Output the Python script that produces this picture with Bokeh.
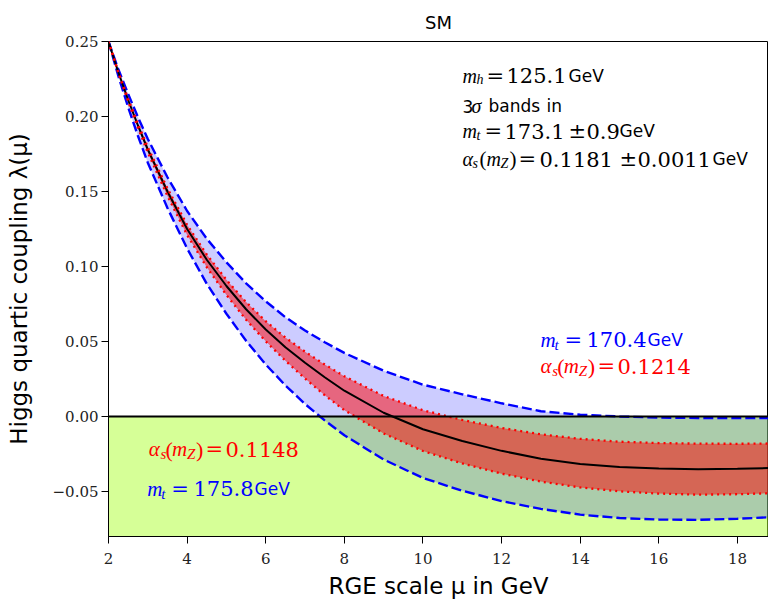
from bokeh.plotting import figure
from bokeh.models import Range1d, FixedTicker, Span, BoxAnnotation, Label
from bokeh.embed import file_html
from bokeh.resources import INLINE

# ---------------- data ----------------
mu = [2.0, 2.25, 2.5, 2.75, 3.0, 3.5, 4.0, 4.5, 5.0, 5.5, 6.0, 6.5, 7.0, 7.5, 8.0,
      9.0, 10.0, 11.0, 12.0, 13.0, 14.0, 15.0, 16.0, 17.0, 18.0, 18.8]

lam_central = [0.250, 0.2295, 0.2110, 0.1940, 0.1780, 0.1500, 0.1250, 0.1045, 0.0870,
               0.0715, 0.0580, 0.0462, 0.0358, 0.0262, 0.0172, 0.0025, -0.0085,
               -0.0163, -0.0229, -0.0281, -0.0316, -0.0337, -0.0347, -0.0351,
               -0.0349, -0.0344]
# m_t = 170.4 GeV (upper dashed)
lam_mt_170 = [0.250, 0.2315, 0.2150, 0.1995, 0.1850, 0.1595, 0.1370, 0.1185, 0.1028,
              0.0888, 0.0768, 0.0662, 0.0573, 0.0495, 0.0424, 0.0305, 0.0212,
              0.0148, 0.0088, 0.0035, 0.0012, 0.0000, -0.0007, -0.0010,
              -0.0011, -0.0010]
# m_t = 175.8 GeV (lower dashed)
lam_mt_175 = [0.250, 0.2270, 0.2062, 0.1870, 0.1692, 0.1390, 0.1120, 0.0885, 0.0685,
              0.0505, 0.0347, 0.0207, 0.0083, -0.0026, -0.0125, -0.0287, -0.0410,
              -0.0495, -0.0564, -0.0616, -0.0654, -0.0677, -0.0687, -0.0689,
              -0.0682, -0.0672]
# alpha_s(m_Z) = 0.1214 (upper dotted)
lam_as_1214 = [0.250, 0.2299, 0.2118, 0.1952, 0.1795, 0.1521, 0.1278, 0.1080, 0.0911,
               0.0763, 0.0635, 0.0526, 0.0432, 0.0347, 0.0268, 0.0137, 0.0042,
               -0.0023, -0.0076, -0.0119, -0.0149, -0.0168, -0.0177, -0.0181,
               -0.0182, -0.0180]
# alpha_s(m_Z) = 0.1148 (lower dotted)
lam_as_1148 = [0.250, 0.2290, 0.2100, 0.1925, 0.1760, 0.1470, 0.1210, 0.0995, 0.0810,
               0.0645, 0.0501, 0.0372, 0.0253, 0.0142, 0.0042, -0.0113, -0.0230,
               -0.0313, -0.0381, -0.0434, -0.0473, -0.0499, -0.0514, -0.0521,
               -0.0518, -0.0512]

x_ticks = [2, 4, 6, 8, 10, 12, 14, 16, 18]
x_tick_labels = ["2", "4", "6", "8", "10", "12", "14", "16", "18"]
y_ticks = [-0.05, 0.0, 0.05, 0.10, 0.15, 0.20, 0.25]
y_tick_labels = ["\u22120.05", "0.00", "0.05", "0.10", "0.15", "0.20", "0.25"]

X0, X1 = 2.0, 18.79
Y0, Y1 = -0.08, 0.25

# ---------------- figure ----------------
p = figure(width=768, height=601, x_range=Range1d(X0, X1), y_range=Range1d(Y0, Y1),
           output_backend="svg", toolbar_location=None, title="SM",
           min_border_left=108, min_border_right=0, min_border_top=39,
           min_border_bottom=65)
p.xgrid.visible = False
p.ygrid.visible = False
p.background_fill_color = "white"
p.border_fill_color = "white"
p.outline_line_color = "black"
p.outline_line_width = 1

p.title.text_font = "DejaVu Sans"
p.title.text_font_size = "18px"
p.title.text_font_style = "normal"
p.title.align = "center"
p.title.text_color = "black"
p.title.standoff = 18

for ax in (p.xaxis[0], p.yaxis[0]):
    ax.axis_line_color = "black"
    ax.axis_line_width = 1
    ax.major_tick_line_color = "black"
    ax.major_tick_out = 7
    ax.major_tick_in = 0
    ax.minor_tick_line_color = None
    ax.major_label_text_font = "DejaVu Serif"
    ax.major_label_text_font_size = "15px"
    ax.major_label_text_color = "#222222"
    ax.axis_label_text_font = "DejaVu Sans"
    ax.axis_label_text_font_style = "normal"
    ax.axis_label_text_font_size = "23px"
    ax.axis_label_text_color = "black"

p.xaxis.ticker = FixedTicker(ticks=x_ticks)
p.xaxis.major_label_overrides = dict(zip(x_ticks, x_tick_labels))
p.yaxis.ticker = FixedTicker(ticks=y_ticks)
p.yaxis.major_label_overrides = dict(zip(y_ticks, y_tick_labels))
p.xaxis.major_label_standoff = 9
p.xaxis.axis_label_standoff = 6
p.yaxis.major_label_standoff = 3
p.yaxis.axis_label_standoff = 18
p.xaxis.axis_label = "RGE scale \u03bc in GeV"
p.yaxis.axis_label = "Higgs quartic coupling \u03bb(\u03bc)"

# ---------------- marks ----------------
p.add_layout(BoxAnnotation(bottom=Y0, top=0, fill_color="#adff2f", fill_alpha=0.5,
                           line_color=None, level="underlay"))
p.varea(x=mu, y1=lam_mt_175, y2=lam_mt_170, fill_color="blue", fill_alpha=0.2)
p.varea(x=mu, y1=lam_as_1148, y2=lam_as_1214, fill_color="red", fill_alpha=0.5)

p.line(mu, lam_mt_170, line_color="blue", line_width=2.4, line_dash="10 4")
p.line(mu, lam_mt_175, line_color="blue", line_width=2.4, line_dash="10 4")
p.line(mu, lam_central, line_color="black", line_width=2)
p.line(mu, lam_as_1214, line_color="red", line_width=2.3, line_dash="2 4")
p.line(mu, lam_as_1148, line_color="red", line_width=2.3, line_dash="2 4")

p.add_layout(Span(location=0, dimension="width", line_color="black", line_width=2))

# ---------------- annotations ----------------
FL, FT, FB, FR = 108.0, 39.0, 536.0, 768.0   # frame edges on the page (px)


def dx(px):
    return X0 + (px - FL) * (X1 - X0) / (FR - FL)


def dy(py):
    return Y1 - (py - FT) * (Y1 - Y0) / (FB - FT)


STY_TOP = {"mi": ("Liberation Serif", "italic", 20, 0),
           "sub": ("Liberation Serif", "italic", 14, 4),
           "rm": ("DejaVu Serif", "normal", 21, 0),
           "par": ("Liberation Serif", "normal", 21, 0),
           "sf": ("DejaVu Sans", "normal", 17, 0)}
STY_COL = {"mi": ("Liberation Serif", "italic", 21, 0),
           "sub": ("Liberation Serif", "italic", 15, 5),
           "rm": ("DejaVu Serif", "normal", 21, 0),
           "par": ("Liberation Serif", "normal", 22, 0),
           "sf": ("DejaVu Sans", "normal", 17, 0)}


def put(base, segs, sty, color):
    for px, txt, kind in segs:
        font, style, size, shift = sty[kind]
        p.add_layout(Label(x=dx(px), y=dy(base + shift), text=txt, text_font=font,
                           text_font_style=style, text_font_size=f"{size}px",
                           text_color=color, text_baseline="alphabetic",
                           text_align="left"))


put(73.5, [(462, "m", "mi"), (476, "h", "sub"), (486, "=", "rm"),
           (506, "125.1", "rm"), (568, "GeV", "sf")], STY_TOP, "black")
put(104, [(462, "3", "sf"), (471, "\u03c3", "mi"), (488, "bands", "sf"),
          (546, "in", "sf")], STY_TOP, "black")
put(129, [(462, "m", "mi"), (476, "t", "sub"), (484, "=", "rm"), (504, "173.1", "rm"),
          (568, "\u00b1", "rm"), (586, "0.9", "rm"), (619, "GeV", "sf")], STY_TOP, "black")
put(157, [(462, "\u03b1", "mi"), (472, "s", "sub"), (479, "(", "par"), (486, "m", "mi"),
          (500, "Z", "sub"), (509, ")", "par"), (518, "=", "rm"), (539, "0.1181", "rm"),
          (619, "\u00b1", "rm"), (637, "0.0011", "rm"), (712, "GeV", "sf")],
    STY_TOP, "black")

put(338.3, [(540, "m", "mi"), (554, "t", "sub"), (564, "=", "rm"),
            (586, "170.4", "rm"), (647, "GeV", "sf")], STY_COL, "blue")
put(365, [(540, "\u03b1", "mi"), (551.7, "s", "sub"), (556.7, "(", "par"),
          (563.3, "m", "mi"), (578.3, "Z", "sub"), (587.3, ")", "par"),
          (597, "=", "rm"), (617, "0.1214", "rm")], STY_COL, "red")

put(448.3, [(148.3, "\u03b1", "mi"), (160, "s", "sub"), (165, "(", "par"),
            (171.6, "m", "mi"), (186.6, "Z", "sub"), (195.6, ")", "par"),
            (205, "=", "rm"), (225, "0.1148", "rm")], STY_COL, "red")
put(488.3, [(146.7, "m", "mi"), (160.7, "t", "sub"), (170.7, "=", "rm"),
            (193, "175.8", "rm"), (254, "GeV", "sf")], STY_COL, "blue")

open("out.html", "w").write(file_html(p, INLINE))
